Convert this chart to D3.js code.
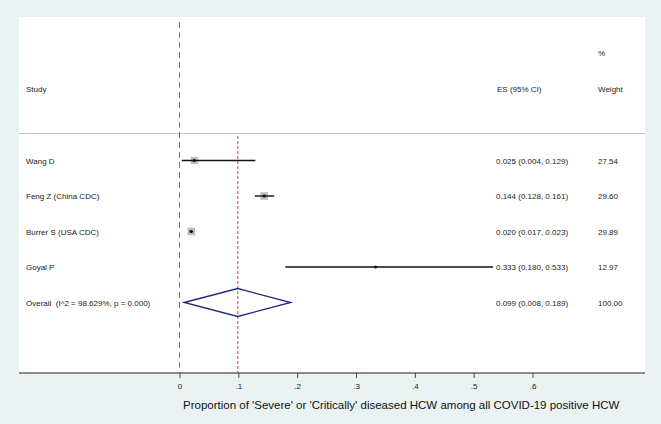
<!DOCTYPE html>
<html>
<head>
<meta charset="utf-8">
<script src="https://cdn.jsdelivr.net/npm/d3@7/dist/d3.min.js"></script>
<style>
  body { margin: 0; background: #eaf2f3; }
  svg { display: block; font-family: "Liberation Sans", Arial, sans-serif; }
</style>
</head>
<body>
<div id="chart"></div>
<script>
// forest plot, studies + pooled estimate
var studies = ['Wang D', 'Feng Z (China CDC)', 'Burrer S (USA CDC)', 'Goyal P'];
var es = [0.025, 0.144, 0.020, 0.333];
var lo = [0.004, 0.128, 0.017, 0.180];
var hi = [0.129, 0.161, 0.023, 0.533];
var weights = [27.54, 29.60, 29.89, 12.97];
var overallLabel = 'Overall  (I^2 = 98.629%, p = 0.000)';
var overall = [0.099, 0.008, 0.189];
var ticks = [0, 0.1, 0.2, 0.3, 0.4, 0.5, 0.6];
var tickLabels = ['0', '.1', '.2', '.3', '.4', '.5', '.6'];

var W = 661, H = 424;
var panel = {left: 19, right: 645, top: 17, bottom: 373};

var svg = d3.select('#chart').append('svg')
	.attr('width', W)
	.attr('height', H);

svg.append('rect')
	.attr('x', panel.left).attr('y', panel.top)
	.attr('width', panel.right - panel.left)
	.attr('height', panel.bottom - panel.top)
	.attr('fill', '#fff');

var x = d3.scaleLinear().domain([0, 0.6]).range([179.5, 532.5]);

var rows = studies.concat([overallLabel]);
var y = d3.scalePoint().domain(rows).range([160.5, 302.5]);

// header
var hdr = svg.append('g').attr('font-size', 8).attr('fill', '#222');
hdr.append('text').attr('x', 26).attr('y', 92).text('Study');
hdr.append('text').attr('x', 497).attr('y', 92).text('ES (95% CI)');
hdr.append('text').attr('x', 598).attr('y', 56).text('%');
hdr.append('text').attr('x', 598).attr('y', 92).text('Weight');

svg.append('line')
	.attr('x1', panel.left).attr('x2', panel.right)
	.attr('y1', 133.5).attr('y2', 133.5)
	.attr('stroke', '#c8c8c8').attr('stroke-width', 1.2);

// null line
svg.append('line')
	.attr('x1', x(0)).attr('x2', x(0))
	.attr('y1', 22).attr('y2', panel.bottom)
	.attr('stroke', '#666').attr('stroke-width', 0.9)
	.attr('stroke-dasharray', '6,4');

// pooled estimate line
svg.append('line')
	.attr('x1', x(overall[0])).attr('x2', x(overall[0]))
	.attr('y1', 136).attr('y2', panel.bottom)
	.attr('stroke', '#c47c80').attr('stroke-width', 1.4)
	.attr('stroke-dasharray', '3,2');

var maxW = d3.max(weights);
var boxSize = d3.scaleSqrt().domain([0, maxW]).range([0, 7.5]);

var g = svg.append('g');
studies.forEach(function(s, i) {
	var cy = y(s);
	var b = boxSize(weights[i]);
	if (i !== 3) {
		g.append('rect')
			.attr('x', x(es[i]) - b / 2).attr('y', cy - b / 2)
			.attr('width', b).attr('height', b)
			.attr('fill', '#bcbcbc');
	}
	g.append('line')
		.attr('x1', x(lo[i])).attr('x2', x(hi[i]))
		.attr('y1', cy).attr('y2', cy)
		.attr('stroke', '#111').attr('stroke-width', 1.4);
	g.append('circle')
		.attr('cx', x(es[i])).attr('cy', cy).attr('r', 1.6)
		.attr('fill', '#111');
});

var oy = y(overallLabel);
svg.append('path')
	.attr('d', 'M' + x(overall[1]) + ',' + oy +
		'L' + x(overall[0]) + ',' + (oy - 14) +
		'L' + x(overall[2]) + ',' + oy +
		'L' + x(overall[0]) + ',' + (oy + 14) + 'Z')
	.attr('fill', 'none')
	.attr('stroke', '#1f2a80').attr('stroke-width', 1.3);

// table text
var f3 = d3.format('.3f'), f2 = d3.format('.2f');
var txt = svg.append('g').attr('font-size', 8).attr('fill', '#222');
rows.forEach(function(r, i) {
	var cy = y(r) + 3;
	var e = i < 4 ? [es[i], lo[i], hi[i]] : overall;
	var w = i < 4 ? weights[i] : 100;
	txt.append('text').attr('x', 26).attr('y', cy).text(r).style('white-space', 'pre');
	txt.append('text').attr('x', 496).attr('y', cy)
		.text(f3(e[0]) + ' (' + f3(e[1]) + ', ' + f3(e[2]) + ')');
	txt.append('text').attr('x', 598).attr('y', cy).text(f2(w));
});

// x axis
svg.append('line')
	.attr('x1', panel.left).attr('x2', panel.right)
	.attr('y1', panel.bottom).attr('y2', panel.bottom)
	.attr('stroke', '#666').attr('stroke-width', 1.5);

var axis = d3.axisBottom(x).tickValues(ticks)
	.tickFormat(function(d, i) { return tickLabels[i]; })
	.tickSize(5).tickSizeOuter(0);

var ax = svg.append('g')
	.attr('transform', 'translate(0,' + panel.bottom + ')')
	.call(axis);
ax.select('.domain').remove();
ax.selectAll('line').attr('stroke', '#444');
ax.selectAll('text').attr('font-size', 8).attr('fill', '#222')
	.attr('font-family', '"Liberation Sans", Arial, sans-serif').attr('dy', '1.05em');

svg.append('text')
	.attr('x', 183).attr('y', 409)
	.attr('font-size', 11.5).attr('fill', '#111')
	.text("Proportion of 'Severe' or 'Critically' diseased HCW among all COVID-19 positive HCW");
</script>
</body>
</html>
